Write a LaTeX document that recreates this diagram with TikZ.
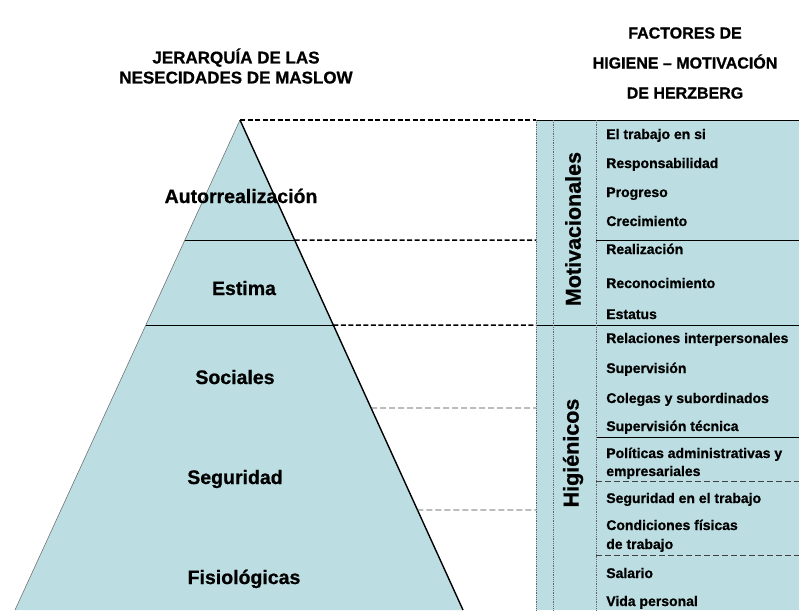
\documentclass[tikz,border=0pt]{standalone}
\usepackage{fontspec}
\setmainfont{Liberation Sans}[BoldFeatures={FakeBold=0.8}]
\usetikzlibrary{calc}
\definecolor{celeste}{RGB}{188,222,226}

\begin{document}
\begin{tikzpicture}[x=1pt,y=-1pt,line width=0.6pt,
    titulo/.style={align=center,font=\bfseries\fontsize{17}{20}\selectfont},
    nivel/.style={anchor=base,inner sep=0pt,font=\bfseries\fontsize{19.5}{20}\selectfont},
    grupo/.style={rotate=90,inner sep=0pt,font=\bfseries\fontsize{21.5}{22}\selectfont},
    factor/.style={anchor=base west,inner sep=0pt,font=\bfseries\fontsize{14}{14}\selectfont},
    guia/.style={dash pattern=on 5pt off 2.5pt,line width=1.5pt},
    guiafina/.style={dash pattern=on 6pt off 3pt,line width=0.6pt,black!75},
    borde/.style={densely dotted,black!60,line width=0.8pt}]

    \useasboundingbox (0,0) rectangle (799,610);

    % titulos
    \node [titulo] (tmaslow) at (236,66) {JERARQUÍA DE LAS\\NESECIDADES DE MASLOW};
    \node [titulo,font=\bfseries\fontsize{16}{30}\selectfont] (therz) at (685,63)
        {FACTORES DE\\HIGIENE – MOTIVACIÓN\\DE HERZBERG};

    % piramide
    \coordinate (cima) at (240,120);
    \coordinate (bi) at (15,610);
    \coordinate (bd) at (463,610);
    \fill[celeste] (cima) -- (bi) -- (bd) -- cycle;
    \draw[black!55] (cima) -- (bi);
    \draw[line width=1.4pt] (cima) -- (bd);

    \foreach \n/\t in {1/0.2449,2/0.4184,3/0.5878,4/0.7959} {
        \coordinate (i\n) at ($(cima)!\t!(bi)$);
        \coordinate (d\n) at ($(cima)!\t!(bd)$);
    }
    \draw (i1) -- (d1);
    \draw (i2) -- (d2);

    \node [nivel] (n5) at (241,203) {Autorrealización};
    \node [nivel] (n4) at (244,295) {Estima};
    \node [nivel] (n3) at (235,384) {Sociales};
    \node [nivel] (n2) at (235,484) {Seguridad};
    \node [nivel] (n1) at (244,584) {Fisiológicas};

    % tabla de factores
    \fill[celeste] (536,120) rectangle (799,610);
    \coordinate (t0) at (536,120);
    \coordinate (t1) at (536,240);
    \coordinate (t2) at (536,325);
    \coordinate (t3) at (536,408);
    \coordinate (t4) at (536,510);

    \draw (t0) -- (799,120);
    \draw (t2) -- (799,325);
    \draw (596,240) -- (799,240);
    \draw (596,437) -- (799,437);
    \draw[guiafina] (596,481) -- (799,481);
    \draw[guiafina] (596,555) -- (799,555);
    \foreach \x in {536,553,596}
        \draw[borde] (\x,120) -- (\x,610);

    % lineas guia
    \draw[guia] (cima) -- (t0);
    \draw[guia] (d1) -- (t1);
    \draw[guia] (d2) -- (t2);
    \draw[guiafina] (d3) -- (t3);
    \draw[guiafina] (d4) -- (t4);

    \node [grupo] (gmot) at (573,229) {Motivacionales};
    \node [grupo] (ghig) at (573,453) {Higiénicos};

    \foreach \y/\t [count=\i] in {139/El trabajo en si, 168/Responsabilidad, 197/Progreso,
        226/Crecimiento, 254/Realización, 288/Reconocimiento, 319/Estatus,
        343/Relaciones interpersonales, 373/Supervisión, 403/Colegas y subordinados,
        431/Supervisión técnica, 458/Políticas administrativas y, 476/empresariales,
        503/Seguridad en el trabajo, 530/Condiciones físicas, 549/de trabajo,
        578/Salario, 606/Vida personal}
        \node [factor] (f\i) at (606,\y) {\t};

\end{tikzpicture}
\end{document}
